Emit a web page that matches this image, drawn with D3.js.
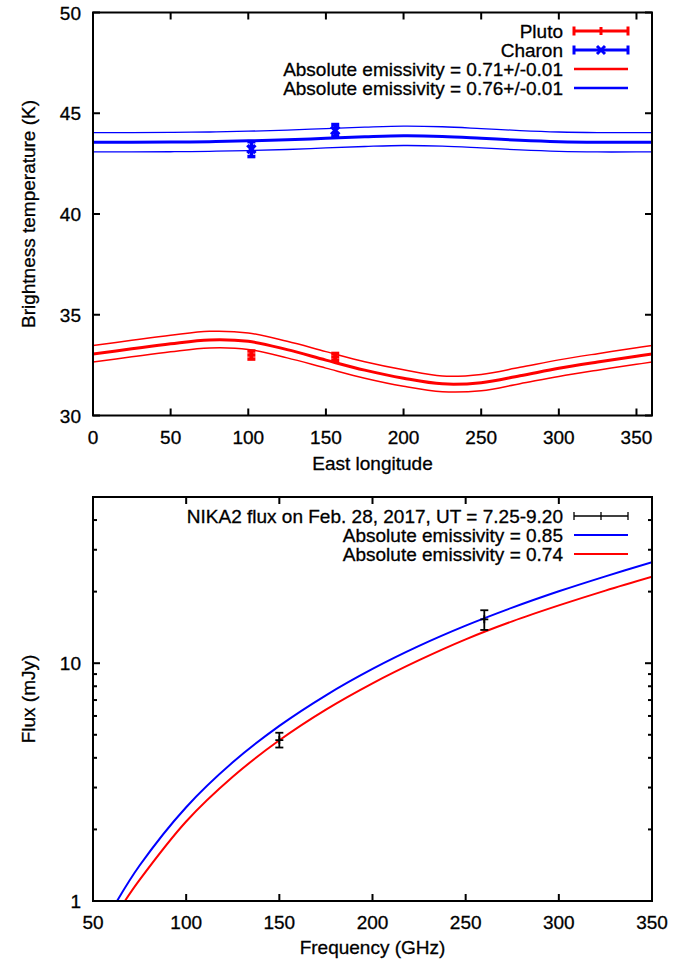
<!DOCTYPE html>
<html><head><meta charset="utf-8">
<script src="https://cdn.jsdelivr.net/npm/d3@7"></script>
<style>
html,body{margin:0;padding:0;background:#fff;}
svg{display:block;}
text{font-family:"Liberation Sans",Arial,Helvetica,sans-serif;font-size:19px;fill:#000;stroke:#000;stroke-width:0.3px;}
</style></head>
<body>
<script>
// ---------- Top panel data ----------
const lonGrid = [0,25,50,75,100,125,150,175,200,225,250,275,300,325,350,360];
const plutoModel = [33.05,33.31,33.56,33.75,33.68,33.27,32.75,32.25,31.85,31.57,31.63,31.97,32.34,32.65,32.94,33.05];
const plutoModelHi = [33.47,33.73,33.98,34.18,34.10,33.68,33.17,32.67,32.27,31.96,32.04,32.39,32.76,33.07,33.36,33.47];
const plutoModelLo = [32.65,32.91,33.16,33.35,33.28,32.86,32.35,31.85,31.45,31.18,31.23,31.58,31.94,32.25,32.54,32.65];
const charonModel = [43.56,43.56,43.57,43.59,43.63,43.68,43.76,43.83,43.88,43.85,43.76,43.66,43.59,43.56,43.56,43.56];
const charonModelHi = [44.04,44.04,44.05,44.07,44.11,44.16,44.24,44.31,44.36,44.33,44.24,44.14,44.07,44.04,44.04,44.04];
const charonModelLo = [43.08,43.08,43.09,43.11,43.15,43.20,43.28,43.35,43.40,43.37,43.28,43.18,43.11,43.08,43.08,43.08];
const plutoLon = [102,156];
const plutoT = [33.0,32.9];
const plutoErr = [0.2,0.18];
const charonLon = [102,156];
const charonT = [43.22,44.14];
const charonErr = [0.37,0.3];
const topXTicks = [0,50,100,150,200,250,300,350];
const topYTicks = [30,35,40,45,50];
const topLegend = ["Pluto","Charon","Absolute emissivity = 0.71+/-0.01","Absolute emissivity = 0.76+/-0.01"];

// ---------- Bottom panel data ----------
const freqBlue = [62.9,75,100,125,150,175,200,225,250,275,300,325,350];
const fluxBlue = [1.0,1.41,2.48,3.83,5.45,7.33,9.46,11.82,14.38,17.12,20.06,23.19,26.6];
const freqRed = [67.1,75,100,125,150,175,200,225,250,275,300,325,350];
const fluxRed = [1.0,1.227,2.16,3.33,4.74,6.38,8.23,10.3,12.6,15.0,17.5,20.2,23.1];
const nikaFreq = [150,260];
const nikaFlux = [4.75,15.3];
const nikaLo = [4.42,13.8];
const nikaHi = [5.10,16.7];
const botXTicks = [50,100,150,200,250,300,350];
const botYMajor = [1,10];
const botYMinor = [2,3,4,5,6,7,8,9,20,30,40,50];
const botLegend = ["NIKA2 flux on Feb. 28, 2017, UT = 7.25-9.20","Absolute emissivity = 0.85","Absolute emissivity = 0.74"];

const W = 692, H = 961;
const svg = d3.select("body").append("svg").attr("width",W).attr("height",H);
const RED = "#ff0000", BLUE = "#0000ff";

// ===== Top panel =====
const L = 93, R = 652;
const tx = d3.scaleLinear().domain([0,360]).range([L,R]);
const ty = d3.scaleLinear().domain([30,50]).range([415.5,12.5]);

const defs = svg.append("defs");
defs.append("clipPath").attr("id","clipTop").append("rect")
  .attr("x",L).attr("y",12.5).attr("width",R-L).attr("height",403);
defs.append("clipPath").attr("id","clipBot").append("rect")
  .attr("x",L).attr("y",497).attr("width",R-L).attr("height",404);

const gTop = svg.append("g");
const topLine = d3.line().x((d,i)=>tx(lonGrid[i])).y(d=>ty(d)).curve(d3.curveCatmullRom.alpha(0.5));
const gCurves = gTop.append("g").attr("clip-path","url(#clipTop)");
[[plutoModelHi,RED,1.5],[plutoModelLo,RED,1.5],[plutoModel,RED,3],
 [charonModelHi,BLUE,1.3],[charonModelLo,BLUE,1.3],[charonModel,BLUE,3]].forEach(([arr,c,w])=>{
  gCurves.append("path").attr("d",topLine(arr)).attr("fill","none").attr("stroke",c).attr("stroke-width",w);
});

function errBar(g, x, y0, y1, yc, color, w, cap, marker){
  g.append("line").attr("x1",x).attr("x2",x).attr("y1",y0).attr("y2",y1).attr("stroke",color).attr("stroke-width",w);
  [y0,y1].forEach(y=>g.append("line").attr("x1",x-cap).attr("x2",x+cap).attr("y1",y).attr("y2",y).attr("stroke",color).attr("stroke-width",w));
  const m=4;
  if(marker==="x"){
    g.append("path").attr("d",`M${x-m},${yc-m}L${x+m},${yc+m}M${x-m},${yc+m}L${x+m},${yc-m}`).attr("stroke",color).attr("stroke-width",w);
  } else {
    g.append("path").attr("d",`M${x-m},${yc}L${x+m},${yc}M${x},${yc-m}L${x},${yc+m}`).attr("stroke",color).attr("stroke-width",w);
  }
}
plutoLon.forEach((lon,i)=>{
  errBar(gTop, tx(lon), ty(plutoT[i]+plutoErr[i]), ty(plutoT[i]-plutoErr[i]), ty(plutoT[i]), RED, 3.5, 4, "+");
});
charonLon.forEach((lon,i)=>{
  errBar(gTop, tx(lon), ty(charonT[i]+charonErr[i]), ty(charonT[i]-charonErr[i]), ty(charonT[i]), BLUE, 3.5, 4, "x");
});

function frame(g, x0, y0, x1, y1){
  g.append("rect").attr("x",x0).attr("y",y0).attr("width",x1-x0).attr("height",y1-y0)
    .attr("fill","none").attr("stroke","#000").attr("stroke-width",2);
}
frame(gTop, L, 12.5, R, 415.5);
const tk = 7;
topXTicks.forEach(v=>{
  const x = tx(v);
  gTop.append("line").attr("x1",x).attr("x2",x).attr("y1",415.5).attr("y2",415.5-tk).attr("stroke","#000").attr("stroke-width",2);
  gTop.append("line").attr("x1",x).attr("x2",x).attr("y1",12.5).attr("y2",12.5+tk).attr("stroke","#000").attr("stroke-width",2);
  gTop.append("text").attr("x",x).attr("y",444).attr("text-anchor","middle").text(v);
});
topYTicks.forEach(v=>{
  const y = ty(v);
  gTop.append("line").attr("x1",L).attr("x2",L+tk).attr("y1",y).attr("y2",y).attr("stroke","#000").attr("stroke-width",2);
  gTop.append("line").attr("x1",R).attr("x2",R-tk).attr("y1",y).attr("y2",y).attr("stroke","#000").attr("stroke-width",2);
  gTop.append("text").attr("x",81).attr("y",y+7).attr("text-anchor","end").text(v);
});
gTop.append("text").attr("x",(L+R)/2).attr("y",470).attr("text-anchor","middle").text("East longitude");
gTop.append("text").attr("transform",`translate(35,${(12.5+415.5)/2}) rotate(-90)`).attr("text-anchor","middle").text("Brightness temperature (K)");

// legend top
const lgX0 = 574, lgX1 = 628, lgTxt = 563;
const lgY = [31,50,69,88];
const lgStyles = [
  {c:RED,w:3,err:true,m:"+"},
  {c:BLUE,w:3,err:true,m:"x"},
  {c:RED,w:2.5,err:false},
  {c:BLUE,w:2.5,err:false}
];
topLegend.forEach((t,i)=>{
  const y = lgY[i], s = lgStyles[i];
  gTop.append("text").attr("x",lgTxt).attr("y",y+7).attr("text-anchor","end").text(t);
  gTop.append("line").attr("x1",lgX0).attr("x2",lgX1).attr("y1",y).attr("y2",y).attr("stroke",s.c).attr("stroke-width",s.w);
  if(s.err){
    [lgX0,lgX1].forEach(x=>gTop.append("line").attr("x1",x).attr("x2",x).attr("y1",y-4.5).attr("y2",y+4.5).attr("stroke",s.c).attr("stroke-width",s.w));
    const xm=(lgX0+lgX1)/2, m=4;
    if(s.m==="x") gTop.append("path").attr("d",`M${xm-m},${y-m}L${xm+m},${y+m}M${xm-m},${y+m}L${xm+m},${y-m}`).attr("stroke",s.c).attr("stroke-width",s.w);
    else gTop.append("path").attr("d",`M${xm},${y-m}L${xm},${y+m}`).attr("stroke",s.c).attr("stroke-width",s.w);
  }
});

// ===== Bottom panel =====
const bT = 497, bB = 901;
const bx = d3.scaleLinear().domain([50,350]).range([L,R]);
const by = d3.scaleLog().domain([1,50]).range([bB,bT]);
const gBot = svg.append("g");
const gBC = gBot.append("g").attr("clip-path","url(#clipBot)");
const lineB = d3.line().curve(d3.curveCatmullRom.alpha(0.5));
gBC.append("path").attr("d",lineB(freqBlue.map((f,i)=>[bx(f),by(fluxBlue[i])]))).attr("fill","none").attr("stroke",BLUE).attr("stroke-width",2);
gBC.append("path").attr("d",lineB(freqRed.map((f,i)=>[bx(f),by(fluxRed[i])]))).attr("fill","none").attr("stroke",RED).attr("stroke-width",2);
nikaFreq.forEach((f,i)=>{
  errBar(gBot, bx(f), by(nikaHi[i]), by(nikaLo[i]), by(nikaFlux[i]), "#000", 1.8, 4, "+");
});
frame(gBot, L, bT, R, bB);
botXTicks.forEach(v=>{
  const x = bx(v);
  gBot.append("line").attr("x1",x).attr("x2",x).attr("y1",bB).attr("y2",bB-tk).attr("stroke","#000").attr("stroke-width",2);
  gBot.append("line").attr("x1",x).attr("x2",x).attr("y1",bT).attr("y2",bT+tk).attr("stroke","#000").attr("stroke-width",2);
  gBot.append("text").attr("x",x).attr("y",929).attr("text-anchor","middle").text(v);
});
botYMajor.forEach(v=>{
  const y = by(v);
  gBot.append("line").attr("x1",L).attr("x2",L+tk).attr("y1",y).attr("y2",y).attr("stroke","#000").attr("stroke-width",2);
  gBot.append("line").attr("x1",R).attr("x2",R-tk).attr("y1",y).attr("y2",y).attr("stroke","#000").attr("stroke-width",2);
  gBot.append("text").attr("x",81).attr("y",y+7).attr("text-anchor","end").text(v);
});
botYMinor.forEach(v=>{
  const y = by(v);
  gBot.append("line").attr("x1",L).attr("x2",L+4).attr("y1",y).attr("y2",y).attr("stroke","#000").attr("stroke-width",2);
  gBot.append("line").attr("x1",R).attr("x2",R-4).attr("y1",y).attr("y2",y).attr("stroke","#000").attr("stroke-width",2);
});
gBot.append("text").attr("x",(L+R)/2).attr("y",954).attr("text-anchor","middle").text("Frequency (GHz)");
gBot.append("text").attr("transform",`translate(35,${(bT+bB)/2}) rotate(-90)`).attr("text-anchor","middle").text("Flux (mJy)");

// legend bottom
const blY = [516,535,554];
const blStyles = [{c:"#000",w:1.3,err:true},{c:BLUE,w:2},{c:RED,w:2}];
botLegend.forEach((t,i)=>{
  const y = blY[i], s = blStyles[i];
  gBot.append("text").attr("x",lgTxt).attr("y",y+7).attr("text-anchor","end").text(t);
  gBot.append("line").attr("x1",lgX0).attr("x2",lgX1).attr("y1",y).attr("y2",y).attr("stroke",s.c).attr("stroke-width",s.w);
  if(s.err){
    [lgX0,lgX1].forEach(x=>gBot.append("line").attr("x1",x).attr("x2",x).attr("y1",y-4).attr("y2",y+4).attr("stroke",s.c).attr("stroke-width",s.w));
    const xm=(lgX0+lgX1)/2;
    gBot.append("line").attr("x1",xm).attr("x2",xm).attr("y1",y-4).attr("y2",y+4).attr("stroke",s.c).attr("stroke-width",s.w);
  }
});
</script>
</body></html>
